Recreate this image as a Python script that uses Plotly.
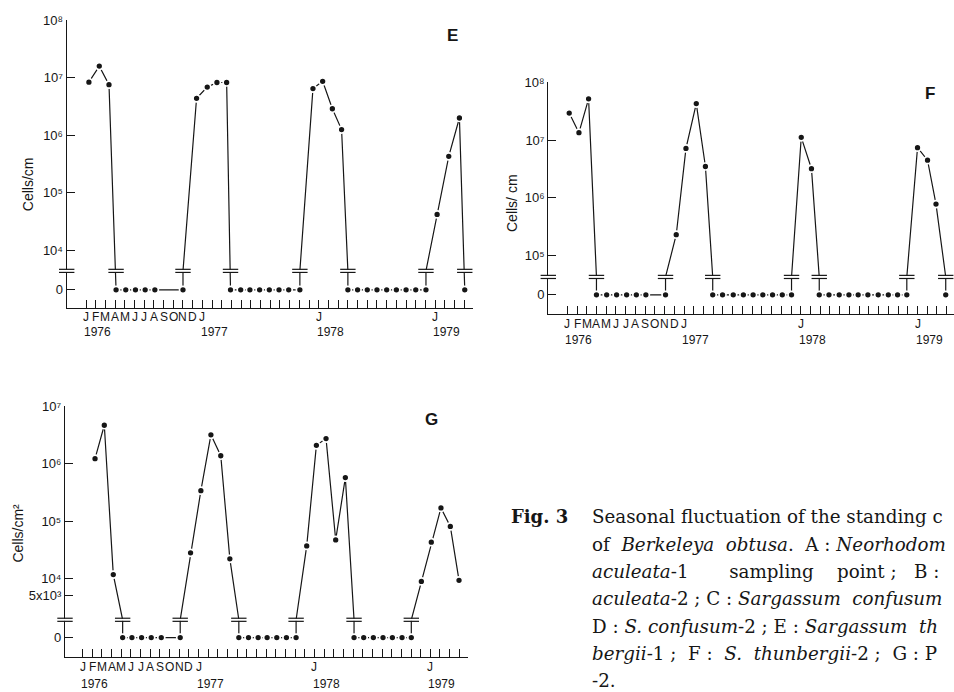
import math
import plotly.graph_objects as go

# ---------------- data ----------------
# x = month index counted from January 1976 (0 = J 1976), y = cells (0 = none found)
month_letters = ["J", "F", "M", "A", "M", "J", "J", "A", "S", "O", "N", "D", "J"]
year_labels = ["1976", "1977", "1978", "1979"]

e_months = [0.3, 1.37, 2.37, 3.1, 4.1, 5.1, 6.1, 7.1, 10.0,
            11.4, 12.5, 13.5, 14.5,
            14.9, 15.95, 16.9, 17.9, 18.9, 19.9, 20.9, 22.05,
            23.4, 24.4, 25.4, 26.35,
            27.0, 28.0, 29.0, 30.0, 31.0, 32.0, 33.0, 34.0, 35.05,
            36.2, 37.4, 38.5, 39.05]
e_cells = [8.4e6, 1.6e7, 7.6e6, 0, 0, 0, 0, 0, 0,
           4.4e6, 6.9e6, 8.3e6, 8.3e6,
           0, 0, 0, 0, 0, 0, 0, 0,
           6.5e6, 8.7e6, 2.9e6, 1.26e6,
           0, 0, 0, 0, 0, 0, 0, 0, 0,
           4.2e4, 4.3e5, 2.0e6, 0]

f_months = [0.2, 1.2, 2.19, 3.0, 4.05, 5.07, 6.1, 7.1, 8.08, 10.1,
            11.2, 12.2, 13.26, 14.2,
            14.95, 15.96, 17.06, 18.1, 19.1, 20.1, 21.1, 22.1, 23.05,
            24.05, 25.1,
            25.9, 26.9, 27.95, 28.95, 29.9, 30.9, 31.96, 33.0, 33.95, 34.9,
            36.0, 37.03, 37.9, 38.9]
f_cells = [2.95e7, 1.35e7, 5.2e7, 0, 0, 0, 0, 0, 0, 0,
           2.3e5, 7.2e6, 4.3e7, 3.5e6,
           0, 0, 0, 0, 0, 0, 0, 0, 0,
           1.12e7, 3.2e6,
           0, 0, 0, 0, 0, 0, 0, 0, 0, 0,
           7.4e6, 4.5e6, 7.8e5, 0]

g_months = [1.28, 2.24, 3.17, 4.14, 5.1, 6.1, 7.1, 8.14, 10.1,
            11.17, 12.24, 13.28, 14.3, 15.24,
            16.17, 17.17, 18.17, 19.1, 20.1, 21.1, 22.1,
            23.2, 24.2, 25.2, 26.2, 27.2,
            28.1, 29.1, 30.1, 31.1, 32.07, 33.07, 34.03,
            35.07, 36.1, 37.1, 38.07, 38.97]
g_cells = [1.23e6, 4.7e6, 1.17e4, 0, 0, 0, 0, 0, 0,
           2.8e4, 3.4e5, 3.2e6, 1.38e6, 2.2e4,
           0, 0, 0, 0, 0, 0, 0,
           3.7e4, 2.1e6, 2.75e6, 4.7e4, 5.75e5,
           0, 0, 0, 0, 0, 0, 0,
           8.9e3, 4.3e4, 1.7e5, 8.1e4, 9.3e3]

e_yticks = [1e4, 1e5, 1e6, 1e7, 1e8]
f_yticks = [1e5, 1e6, 1e7, 1e8]
g_yticks = [5e3, 1e4, 1e5, 1e6, 1e7]

caption_lines = [
    "Seasonal fluctuation of the standing c",
    "of  <i>Berkeleya  obtusa</i>.  A : <i>Neorhodom</i>",
    "<i>aculeata</i>-1       sampling    point ;   B :",
    "<i>aculeata</i>-2 ; C : <i>Sargassum  confusum</i>",
    "D : <i>S. confusum</i>-2 ; E : <i>Sargassum  th</i>",
    "<i>bergii</i>-1 ;  F :  <i>S.  thunbergii</i>-2 ;  G : P",
    "-2.",
]

# ---------------- layout helpers ----------------
W, H = 954, 692
INK = "#161616"
SANS = "Liberation Sans"
SERIF = "DejaVu Serif"
SUP = str.maketrans("0123456789", "\u2070\u00b9\u00b2\u00b3\u2074\u2075\u2076\u2077\u2078\u2079")


def px_x(p):
    return p / W


def px_y(p):
    return 1 - p / H


panels = [
    dict(name="E", months=e_months, cells=e_cells, yticks=e_yticks, ytitle="Cells/cm",
         xdom=(66.7, 473), ydom=(304.3, 13.3), xr=(-1.99, 39.9), yr=(2.99, 8.004),
         zero=3.31, brk=3.64, label=(452, 29), title=(28, 179), letters_y=313.5, years_y=328.5),
    dict(name="F", months=f_months, cells=f_cells, yticks=f_yticks, ytitle="Cells/ cm",
         xdom=(548.3, 954), ydom=(310, 76), xr=(-1.95, 39.75), yr=(3.99, 8.004),
         zero=4.32, brk=4.63, label=(930, 87), title=(512, 198), letters_y=320.5, years_y=336.5),
    dict(name="G", months=g_months, cells=g_cells, yticks=g_yticks, ytitle="Cells/cm" + "2".translate(SUP),
         xdom=(65, 468), ydom=(656.7, 403.3), xr=(-1.83, 39.9), yr=(2.63, 7.004),
         zero=2.97, brk=3.28, label=(431, 417), title=(18, 532), letters_y=667, years_y=683.5),
]


def tick_text(v):
    e = int(math.floor(math.log10(v) + 1e-9))
    m = v / 10 ** e
    sup = str(e).translate(SUP)
    if abs(m - 1) < 1e-9:
        return "10" + sup
    return "%dx10%s" % (round(m), sup)


fig = go.Figure()
annotations = []

for i, p in enumerate(panels):
    sfx = "" if i == 0 else str(i + 1)
    xa, ya = "x" + sfx, "y" + sfx
    zero, brk = p["zero"], p["brk"]
    ys = [math.log10(v) if v > 0 else zero for v in p["cells"]]
    xs = p["months"]

    # line path with the axis-break step inserted at each zero / non-zero transition
    lx, ly, bx = [xs[0]], [ys[0]], []
    for k in range(1, len(xs)):
        a0 = p["cells"][k - 1] == 0
        b0 = p["cells"][k] == 0
        if a0 != b0:
            xz = xs[k - 1] if a0 else xs[k]
            lx.append(xz)
            ly.append(brk)
            bx.append(xz)
        lx.append(xs[k])
        ly.append(ys[k])

    fig.add_trace(go.Scatter(x=lx, y=ly, mode="lines", xaxis=xa, yaxis=ya,
                             line=dict(color=INK, width=1.2), hoverinfo="skip",
                             showlegend=False))
    fig.add_trace(go.Scatter(x=xs, y=ys, mode="markers", xaxis=xa, yaxis=ya,
                             marker=dict(size=7, color=INK, line=dict(color="white", width=1.7)),
                             showlegend=False))

    # break marks "=" on the data lines and on the y axis
    bxs = bx + [p["xr"][0]]
    d = 0.027
    fig.add_trace(go.Scatter(x=bxs, y=[brk] * len(bxs), mode="markers", xaxis=xa, yaxis=ya,
                             marker=dict(symbol="line-ew", size=10,
                                         line=dict(color="white", width=2.2)),
                             cliponaxis=False, hoverinfo="skip", showlegend=False))
    for off in (d, -d):
        fig.add_trace(go.Scatter(x=bxs, y=[brk + off] * len(bxs), mode="markers",
                                 xaxis=xa, yaxis=ya,
                                 marker=dict(symbol="line-ew", size=11,
                                             line=dict(color=INK, width=1.2)),
                                 cliponaxis=False, hoverinfo="skip", showlegend=False))

    # axes: one tick per month, labels drawn as annotations below
    fig.update_layout(**{
        "xaxis" + sfx: dict(domain=[px_x(p["xdom"][0]), px_x(p["xdom"][1])], range=list(p["xr"]),
                            anchor=ya, showgrid=False, zeroline=False, showline=True,
                            linecolor=INK, linewidth=1.3, ticks="inside", ticklen=8,
                            tickwidth=1.1, tickcolor=INK, tickvals=list(range(40)),
                            showticklabels=False, layer="below traces"),
        "yaxis" + sfx: dict(domain=[px_y(p["ydom"][0]), px_y(p["ydom"][1])], range=list(p["yr"]),
                            anchor=xa, showgrid=False, zeroline=False, showline=True,
                            linecolor=INK, linewidth=1.3, ticks="inside", ticklen=8,
                            tickwidth=1.1, tickcolor=INK,
                            tickvals=[zero] + [math.log10(v) for v in p["yticks"]],
                            ticktext=["0"] + [tick_text(v) for v in p["yticks"]],
                            layer="below traces",
                            tickfont=dict(family=SANS, size=13, color=INK)),
    })

    # month letters under the ticks (first year, then J of each later year)
    label_pos = list(range(len(month_letters))) + [24, 36]
    label_txt = month_letters + ["J", "J"]
    for t, s in zip(label_pos, label_txt):
        annotations.append(dict(text=s, x=t, xref=xa, y=px_y(p["letters_y"]), yref="paper",
                                xanchor="center", yanchor="middle", showarrow=False,
                                font=dict(family=SANS, size=12, color=INK)))
    # year labels under the J ticks
    for k, yr in enumerate(year_labels):
        annotations.append(dict(text=yr, x=12 * k - 0.4, xref=xa, y=px_y(p["years_y"]),
                                yref="paper", xanchor="left", yanchor="middle",
                                showarrow=False, font=dict(family=SANS, size=12, color=INK)))
    # panel letter
    annotations.append(dict(text="<b>%s</b>" % p["name"], x=px_x(p["label"][0]),
                            y=px_y(p["label"][1]), xref="paper", yref="paper",
                            xanchor="center", yanchor="middle", showarrow=False,
                            font=dict(family=SANS, size=17, color=INK)))
    # y title
    annotations.append(dict(text=p["ytitle"], x=px_x(p["title"][0]), y=px_y(p["title"][1]),
                            xref="paper", yref="paper", xanchor="center", yanchor="middle",
                            textangle=-90, showarrow=False,
                            font=dict(family=SANS, size=14, color=INK)))

# caption
cap_top, cap_step = 515, 27.6
annotations.append(dict(text="<b>Fig. 3</b>", x=px_x(509), y=px_y(cap_top), xref="paper",
                        yref="paper", xanchor="left", yanchor="middle", showarrow=False,
                        font=dict(family=SERIF, size=18, color=INK)))
for k, line in enumerate(caption_lines):
    txt = line.replace("  ", "\u00a0\u00a0")
    annotations.append(dict(text=txt, x=px_x(590), y=px_y(cap_top + k * cap_step),
                            xref="paper", yref="paper", xanchor="left", yanchor="middle",
                            showarrow=False, font=dict(family=SERIF, size=18.3, color=INK)))

fig.update_layout(width=W, height=H, autosize=False, margin=dict(l=0, r=0, t=0, b=0),
                  paper_bgcolor="white", plot_bgcolor="white", showlegend=False,
                  annotations=annotations, font=dict(family=SANS, color=INK))

fig.write_html("out.html")
